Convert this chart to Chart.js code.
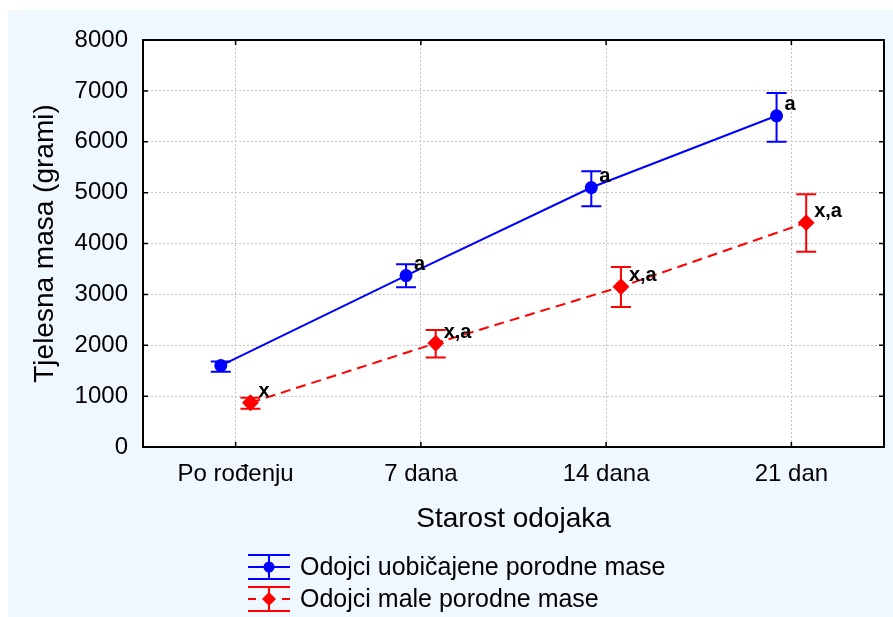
<!DOCTYPE html>
<html>
<head>
<meta charset="utf-8">
<title>Tjelesna masa odojaka</title>
<script src="https://cdn.jsdelivr.net/npm/chart.js@4.4.0/dist/chart.umd.min.js"></script>
<style>
  body { margin: 0; background: #ffffff; }
  canvas { display: block; }
</style>
</head>
<body>
<canvas id="myChart" width="893" height="617"></canvas>
<script>
var kategorije = ["Po rođenju", "7 dana", "14 dana", "21 dan"];

// odojci uobicajene porodne mase
var uobicajeneSredina = [1600, 3370, 5100, 6510];
var uobicajeneDonja = [1480, 3140, 4730, 6000];
var uobicajeneGornja = [1680, 3590, 5420, 6960];
var uobicajeneOznake = ["", "a", "a", "a"];

// odojci male porodne mase
var maleSredina = [870, 2040, 3150, 4410];
var maleDonja = [750, 1760, 2750, 3840];
var maleGornja = [970, 2300, 3540, 4970];
var maleOznake = ["x", "x,a", "x,a", "x,a"];

const font = "'Liberation Sans', Arial, sans-serif";
const pomak = 0.08;

//Pozadina
const pozadina = {
  id: "pozadina",
  beforeDraw(chart) {
    const ctx = chart.ctx;
    const a = chart.chartArea;
    ctx.save();
    ctx.fillStyle = "#ffffff";
    ctx.fillRect(0, 0, chart.width, chart.height);
    ctx.fillStyle = "#f0f8ff";
    ctx.fillRect(8, 10, chart.width - 8, chart.height - 10);
    ctx.fillStyle = "#ffffff";
    ctx.fillRect(a.left, a.top, a.right - a.left, a.bottom - a.top);
    ctx.restore();
  }
};

//Greske (error bars) i oznake
const greske = {
  id: "greske",
  beforeDatasetsDraw(chart) {
    const ctx = chart.ctx;
    const y = chart.scales.y;
    ctx.save();
    chart.data.datasets.forEach((ds, i) => {
      const meta = chart.getDatasetMeta(i);
      ctx.strokeStyle = ds.borderColor;
      ctx.lineWidth = 2;
      ctx.setLineDash([]);
      meta.data.forEach((el, j) => {
        const y1 = y.getPixelForValue(ds.donja[j]);
        const y2 = y.getPixelForValue(ds.gornja[j]);
        ctx.beginPath();
        ctx.moveTo(el.x, y1);
        ctx.lineTo(el.x, y2);
        ctx.moveTo(el.x - 10, y1);
        ctx.lineTo(el.x + 10, y1);
        ctx.moveTo(el.x - 10, y2);
        ctx.lineTo(el.x + 10, y2);
        ctx.stroke();
      });
    });
    ctx.restore();
  },
  afterDatasetsDraw(chart) {
    const ctx = chart.ctx;
    ctx.save();
    ctx.fillStyle = "#000000";
    ctx.font = "bold 20px " + font;
    ctx.textAlign = "left";
    ctx.textBaseline = "middle";
    chart.data.datasets.forEach((ds, i) => {
      const meta = chart.getDatasetMeta(i);
      meta.data.forEach((el, j) => {
        ctx.fillText(ds.oznake[j], el.x + 8, el.y - 11);
      });
    });
    ctx.restore();
  }
};

//Okvir i crtice
const okvir = {
  id: "okvir",
  afterDraw(chart) {
    const ctx = chart.ctx;
    const a = chart.chartArea;
    ctx.save();
    ctx.strokeStyle = "#000000";
    ctx.lineWidth = 1.5;
    chart.scales.y.ticks.forEach((t) => {
      const py = chart.scales.y.getPixelForValue(t.value);
      ctx.beginPath();
      ctx.moveTo(a.left, py);
      ctx.lineTo(a.left + 5, py);
      ctx.moveTo(a.right, py);
      ctx.lineTo(a.right - 5, py);
      ctx.stroke();
    });
    kategorije.forEach((k, i) => {
      const px = chart.scales.x.getPixelForValue(i);
      ctx.beginPath();
      ctx.moveTo(px, a.top);
      ctx.lineTo(px, a.top + 5);
      ctx.moveTo(px, a.bottom);
      ctx.lineTo(px, a.bottom - 5);
      ctx.stroke();
    });
    ctx.lineWidth = 2;
    ctx.strokeRect(a.left, a.top, a.right - a.left, a.bottom - a.top);
    ctx.restore();
  }
};

//Legenda
const legenda = {
  id: "legenda",
  afterDraw(chart) {
    const ctx = chart.ctx;
    const a = chart.chartArea;
    const x0 = a.left + 105;
    const w = 42;
    const cx = x0 + w / 2;
    ctx.save();
    chart.data.datasets.forEach((ds, i) => {
      const cy = a.bottom + 120 + i * 32;
      ctx.strokeStyle = ds.borderColor;
      ctx.fillStyle = ds.borderColor;
      ctx.lineWidth = 2;
      ctx.beginPath();
      ctx.moveTo(x0, cy - 12);
      ctx.lineTo(x0 + w, cy - 12);
      ctx.moveTo(x0, cy + 12);
      ctx.lineTo(x0 + w, cy + 12);
      ctx.moveTo(cx, cy - 12);
      ctx.lineTo(cx, cy + 12);
      if (ds.borderDash) {
        ctx.moveTo(x0, cy);
        ctx.lineTo(x0 + 8, cy);
        ctx.moveTo(x0 + w - 8, cy);
        ctx.lineTo(x0 + w, cy);
      } else {
        ctx.moveTo(x0, cy);
        ctx.lineTo(x0 + w, cy);
      }
      ctx.stroke();
      ctx.beginPath();
      if (ds.pointStyle === "rectRot") {
        ctx.moveTo(cx, cy - 7);
        ctx.lineTo(cx + 7, cy);
        ctx.lineTo(cx, cy + 7);
        ctx.lineTo(cx - 7, cy);
        ctx.closePath();
      } else {
        ctx.arc(cx, cy, 5.5, 0, Math.PI * 2);
      }
      ctx.fill();
      ctx.fillStyle = "#000000";
      ctx.font = "25px " + font;
      ctx.textAlign = "left";
      ctx.textBaseline = "middle";
      ctx.fillText(ds.label, x0 + 52, cy + 1);
    });
    ctx.restore();
  }
};

const chartData = {
  datasets: [
    {
      label: "Odojci uobičajene porodne mase",
      data: uobicajeneSredina.map((v, i) => ({ x: i - pomak, y: v })),
      donja: uobicajeneDonja,
      gornja: uobicajeneGornja,
      oznake: uobicajeneOznake,
      borderColor: "#0000ff",
      backgroundColor: "#0000ff",
      borderWidth: 2,
      pointStyle: "circle",
      pointRadius: 5.5,
      fill: false,
    },
    {
      label: "Odojci male porodne mase",
      data: maleSredina.map((v, i) => ({ x: i + pomak, y: v })),
      donja: maleDonja,
      gornja: maleGornja,
      oznake: maleOznake,
      borderColor: "#ff0000",
      backgroundColor: "#ff0000",
      borderWidth: 2,
      borderDash: [10, 6],
      pointStyle: "rectRot",
      pointRadius: 7,
      fill: false,
    },
  ],
};

const config = {
  type: "line",
  data: chartData,
  options: {
    responsive: false,
    animation: false,
    layout: { padding: { left: 0, top: 40, right: 7, bottom: 81 } },
    plugins: {
      legend: { display: false },
      tooltip: { enabled: false },
    },
    scales: {
      x: {
        type: "linear",
        min: -0.5,
        max: 3.5,
        afterFit: (s) => { s.height = 89; },
        afterBuildTicks: (s) => {
          s.ticks = kategorije.map((k, i) => ({ value: i }));
        },
        grid: { color: "#c4c4c4", lineWidth: 1, drawTicks: false },
        border: { display: false, dash: [2, 2] },
        ticks: {
          autoSkip: false,
          maxRotation: 0,
          padding: 13,
          color: "#000000",
          font: { size: 24, family: font },
          callback: (v) => kategorije[Math.round(v)],
        },
        title: {
          display: true,
          text: "Starost odojaka",
          color: "#000000",
          font: { size: 28, family: font },
          padding: { top: 0, bottom: 0 },
        },
      },
      y: {
        min: 0,
        max: 8000,
        afterFit: (s) => { s.width = 143; },
        grid: { color: "#c4c4c4", lineWidth: 1, drawTicks: false },
        border: { display: false, dash: [2, 2] },
        ticks: {
          stepSize: 1000,
          padding: 15,
          color: "#000000",
          font: { size: 24, family: font },
          callback: (v) => String(v),
        },
        title: {
          display: true,
          text: "Tjelesna masa (grami)",
          color: "#000000",
          font: { size: 28, family: font },
          padding: { top: 28, bottom: 0 },
        },
      },
    },
  },
  plugins: [pozadina, greske, okvir, legenda],
};

let grafChart = new Chart(document.getElementById("myChart"), config);
</script>
</body>
</html>
